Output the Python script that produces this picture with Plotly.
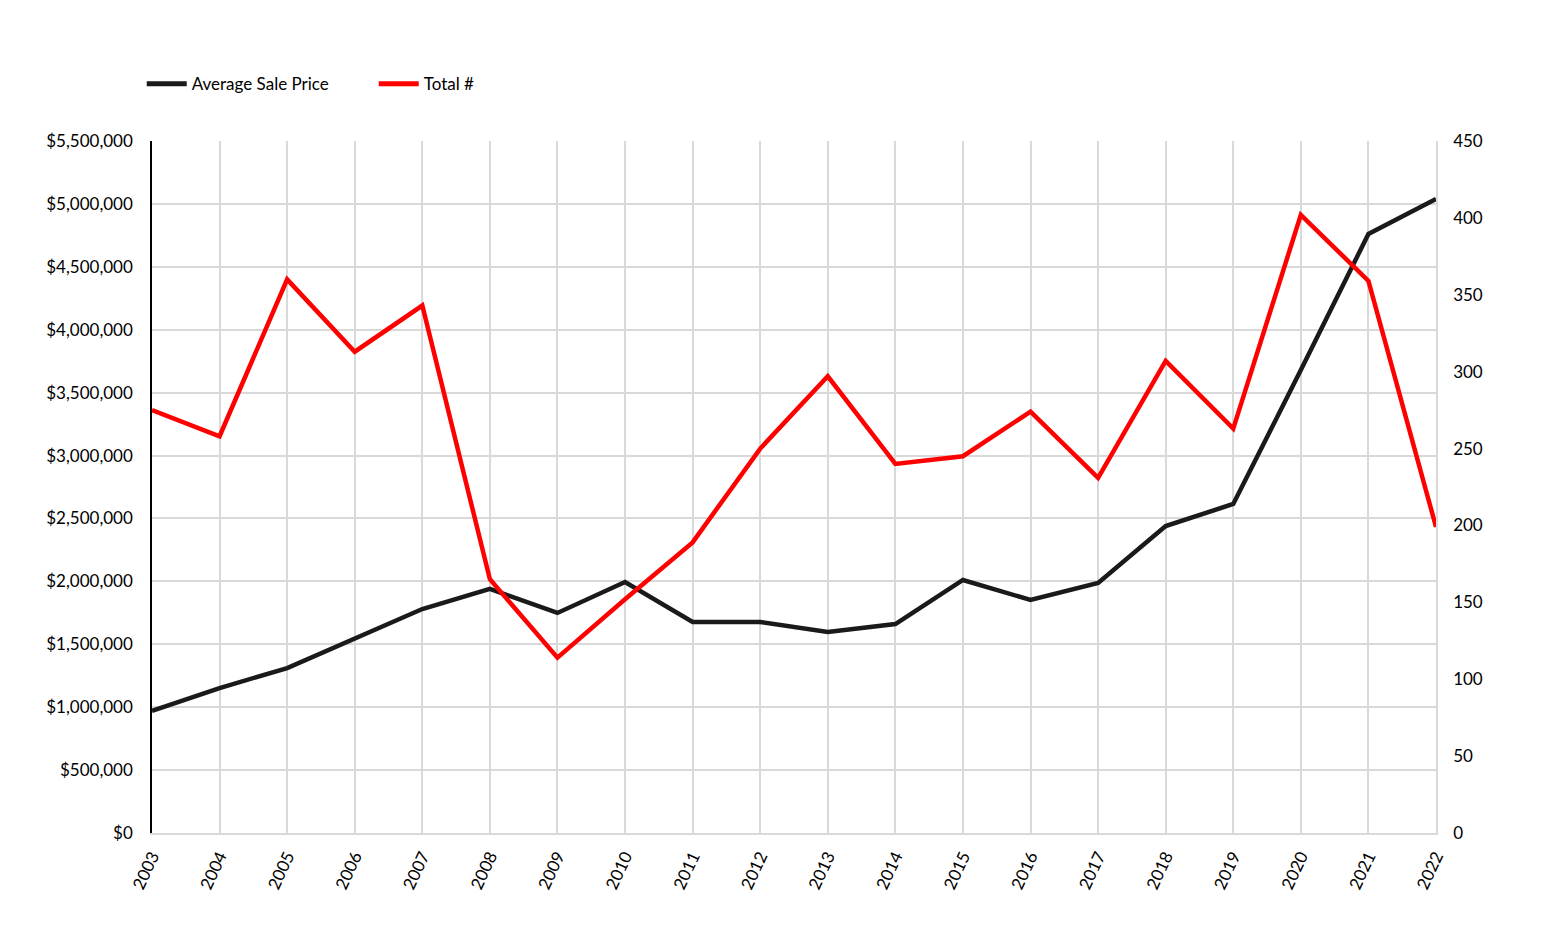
import plotly.graph_objects as go

years = list(range(2003, 2023))
avg_price = [970000, 1152000, 1311000, 1550000, 1780000, 1940000, 1749000, 1995000,
             1677000, 1677000, 1598000, 1661000, 2011000, 1852000, 1987000, 2440000,
             2615000, 3680000, 4761000, 5040000]
total_count = [275, 258, 360, 313, 343, 165, 114, 152, 189, 250, 297, 240, 245, 274,
               231, 307, 263, 402, 359, 199]

left_ticks = list(range(0, 5500001, 500000))
left_labels = ["$0"] + ["${:,}".format(v) for v in left_ticks[1:]]
right_ticks = list(range(0, 451, 50))

font = dict(family="Lato, Open Sans, sans-serif", size=17, color="#000000")

fig = go.Figure()
fig.add_trace(go.Scatter(x=years, y=avg_price, mode="lines", name="Average Sale Price",
                         line=dict(color="#1a1a1a", width=4.5), yaxis="y"))
fig.add_trace(go.Scatter(x=years, y=total_count, mode="lines", name="Total #",
                         line=dict(color="#ff0000", width=4.5), yaxis="y2"))

fig.update_layout(
    width=1543, height=941,
    margin=dict(l=144, r=115, t=133, b=116),
    paper_bgcolor="white", plot_bgcolor="white",
    font=font,
    showlegend=True,
    legend=dict(orientation="h", x=-0.008, xanchor="left", y=1.082, yanchor="middle",
                font=dict(size=17), itemwidth=40, tracegroupgap=0,
                entrywidthmode="pixels", entrywidth=177, itemsizing="constant"),
    xaxis=dict(range=[2003, 2022], tickmode="array", tickvals=years,
               ticktext=[str(y) for y in years], tickangle=-65,
               showgrid=True, gridcolor="#d9d9d9", gridwidth=1.5,
               zeroline=False, showline=True, linecolor="#d9d9d9", linewidth=1.5,
               ticks="", ticklabelstandoff=5),
    yaxis=dict(range=[0, 5500000], tickmode="array", tickvals=left_ticks, ticktext=left_labels,
               showgrid=True, gridcolor="#d9d9d9", gridwidth=1.5, zeroline=False,
               showline=True, linecolor="#000000", linewidth=1.5, ticks="",
               ticklabelstandoff=14),
    yaxis2=dict(range=[0, 450], tickmode="array", tickvals=right_ticks,
                overlaying="y", side="right", showgrid=False, zeroline=False,
                showline=True, linecolor="#d9d9d9", linewidth=1.5, ticks="",
                ticklabelstandoff=12),
)

fig.write_html("out.html")
